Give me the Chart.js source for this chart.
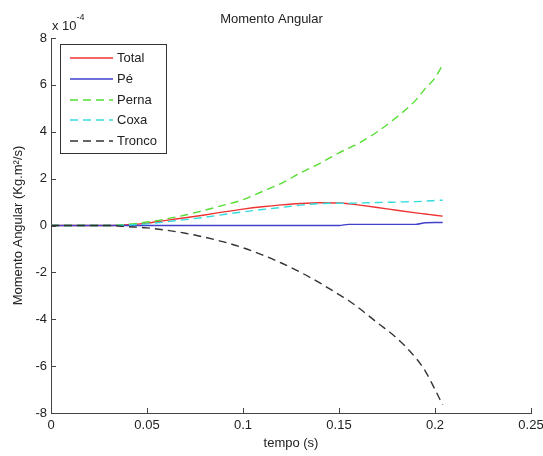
<!DOCTYPE html>
<html><head><meta charset="utf-8">
<script src="https://cdn.jsdelivr.net/npm/chart.js@4.4.1/dist/chart.umd.min.js"></script>
<style>html,body{margin:0;padding:0;background:#fff}</style>
</head><body>
<canvas id="c" width="543" height="456"></canvas>
<script>
// time (s)
const tempo  = [0,0.01,0.02,0.03,0.04,0.05,0.06,0.07,0.08,0.09,0.10,0.11,0.12,0.13,0.14,0.15,0.155,0.16,0.17,0.18,0.19,0.195,0.20,0.204];
// angular momentum (x 10^-4 Kg.m^2/s)
const total  = [0,0,0,0,0.03,0.10,0.22,0.33,0.45,0.58,0.70,0.80,0.88,0.94,0.97,0.96,0.93,0.88,0.77,0.65,0.54,0.49,0.44,0.40];
const pe     = [0,0,0,0,0,0,0,0,0,0,0,0,0,0,0,0,0.05,0.05,0.05,0.05,0.05,0.12,0.13,0.13];
const perna  = [0,0,0,0,0.05,0.15,0.28,0.45,0.65,0.87,1.10,1.45,1.80,2.25,2.65,3.10,3.30,3.50,4.00,4.62,5.35,5.85,6.30,6.85];
const coxa   = [0,0,0,0,0.02,0.07,0.16,0.25,0.35,0.47,0.58,0.68,0.77,0.87,0.93,0.95,0.95,0.96,0.98,1.00,1.02,1.04,1.07,1.08];
const tronco = [0,0,0,0,-0.05,-0.10,-0.20,-0.33,-0.50,-0.70,-0.95,-1.25,-1.60,-2.00,-2.45,-2.95,-3.20,-3.50,-4.15,-4.80,-5.65,-6.22,-7.00,-7.65];

const seriesNames = ['Total','Pé','Perna','Coxa','Tronco'];
const xTickLabels = ['0','0.05','0.1','0.15','0.2','0.25'];
const yTickLabels = ['-8','-6','-4','-2','0','2','4','6','8'];

const FONT = "'Liberation Sans', Arial, Helvetica, sans-serif";
const TXT = '#222';
function pts(arr){ return tempo.map((t,i)=>({x:t,y:arr[i]})); }

const dsStyle = [
  {color:'#ee3333', dash:[]},
  {color:'#4040cc', dash:[]},
  {color:'#55dd33', dash:[8,5]},
  {color:'#33dddd', dash:[8,5]},
  {color:'#333333', dash:[8,5]}
];
const seriesData = [total, pe, perna, coxa, tronco];

const datasets = seriesNames.map((n,i)=>({
  label:n,
  data:pts(seriesData[i]),
  borderColor:dsStyle[i].color,
  borderDash:dsStyle[i].dash,
  borderWidth:1.4,
  pointRadius:0,
  fill:false,
  cubicInterpolationMode:'monotone',
  order:4-i
}));

const extras = {
  id:'extras',
  afterDraw(chart){
    const ctx = chart.ctx;
    const xs = chart.scales.x, ys = chart.scales.y;
    const ca = chart.chartArea;
    ctx.save();
    // inward tick marks
    ctx.strokeStyle = '#444'; ctx.lineWidth = 1;
    ctx.beginPath();
    xs.ticks.forEach(t=>{ const p = Math.round(xs.getPixelForValue(t.value))+0.5; ctx.moveTo(p, ca.bottom); ctx.lineTo(p, ca.bottom-5); });
    ys.ticks.forEach(t=>{ const p = Math.round(ys.getPixelForValue(t.value))+0.5; ctx.moveTo(ca.left, p); ctx.lineTo(ca.left+5, p); });
    ctx.stroke();
    // exponent label
    ctx.fillStyle = TXT;
    ctx.textBaseline = 'middle'; ctx.textAlign = 'left';
    ctx.font = '13px ' + FONT;
    ctx.fillText('x 10', ca.left+1, 26);
    const w = ctx.measureText('x 10').width;
    ctx.font = '9px ' + FONT;
    ctx.fillText('-4', ca.left+1+w, 18);
    // legend
    const bx = 60.5, by = 44.5, bw = 106, bh = 109;
    ctx.fillStyle = '#fff';
    ctx.fillRect(bx, by, bw, bh);
    ctx.strokeStyle = '#333'; ctx.lineWidth = 1;
    ctx.strokeRect(bx, by, bw, bh);
    const rowY = [58, 79, 100, 120, 141];
    chart.data.datasets.forEach((d,i)=>{
      ctx.strokeStyle = d.borderColor; ctx.lineWidth = 1.4;
      ctx.setLineDash(d.borderDash || []);
      ctx.beginPath(); ctx.moveTo(70, rowY[i]); ctx.lineTo(113, rowY[i]); ctx.stroke();
      ctx.setLineDash([]);
      ctx.fillStyle = TXT; ctx.font = '13px ' + FONT;
      ctx.textBaseline = 'middle'; ctx.textAlign = 'left';
      ctx.fillText(d.label, 117, rowY[i]);
    });
    ctx.restore();
  }
};

new Chart(document.getElementById('c'), {
  type:'line',
  data:{datasets},
  options:{
    responsive:false,
    devicePixelRatio:1,
    animation:false,
    layout:{padding:{left:0,right:0,top:0,bottom:0}},
    plugins:{
      legend:{display:false},
      tooltip:{enabled:false},
      title:{display:true,text:'Momento Angular',color:TXT,font:{family:FONT,size:13,weight:'normal'},padding:{top:12,bottom:10.4}}
    },
    scales:{
      x:{
        type:'linear', min:0, max:0.25,
        grid:{display:true,drawOnChartArea:false,drawTicks:false},
        border:{display:true,color:'#444',width:1},
        ticks:{stepSize:0.05,padding:5,color:TXT,font:{family:FONT,size:13},maxRotation:0,autoSkip:false,
          callback:(v,i)=>xTickLabels[i]},
        title:{display:true,text:'tempo (s)',color:TXT,font:{family:FONT,size:13},padding:{top:0,bottom:5}},
        afterFit(s){ s.height = 43; s.paddingRight = 12; s.paddingLeft = 0; }
      },
      y:{
        type:'linear', min:-8, max:8,
        grid:{display:true,drawOnChartArea:false,drawTicks:false},
        border:{display:true,color:'#444',width:1},
        ticks:{stepSize:2,padding:4,color:TXT,font:{family:FONT,size:13},autoSkip:false,
          callback:(v,i)=>yTickLabels[i]},
        title:{display:true,text:'Momento Angular (Kg.m²/s)',color:TXT,font:{family:FONT,size:13},padding:{top:11,bottom:0}},
        afterFit(s){ s.width = 51; s.paddingTop = 0; s.paddingBottom = 0; }
      }
    }
  },
  plugins:[extras]
});
</script>
</body></html>
